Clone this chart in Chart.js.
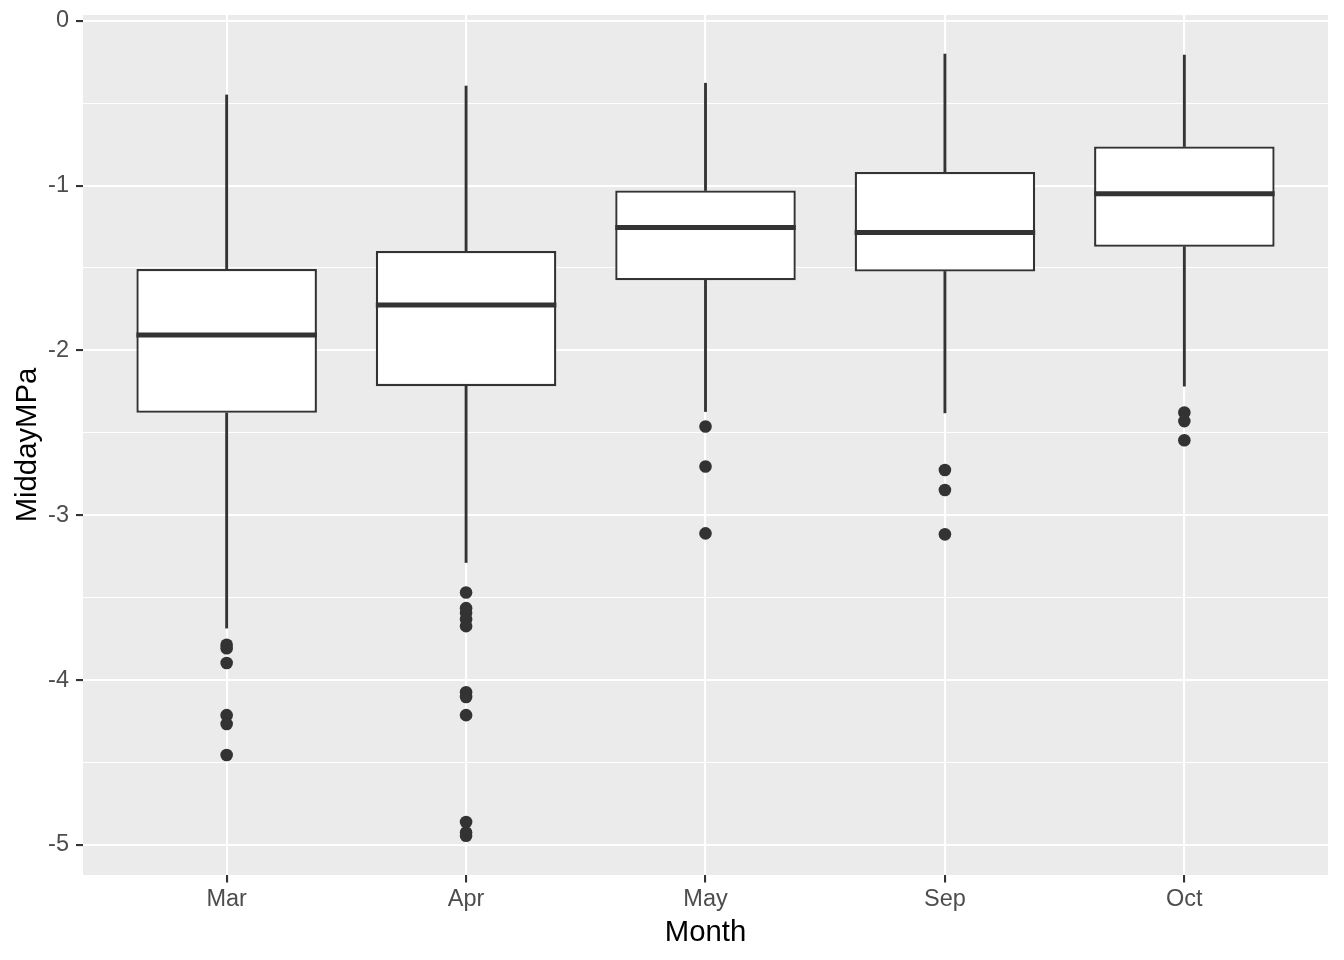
<!DOCTYPE html>
<html>
<head>
<meta charset="utf-8">
<script src="https://cdn.jsdelivr.net/npm/chart.js@4"></script>
<style>
  html, body { margin: 0; padding: 0; background: #ffffff; }
  canvas { display: block; }
</style>
</head>
<body>
<canvas id="c" width="1344" height="960"></canvas>
<script>
// ---- data ----
const months      = ['Mar', 'Apr', 'May', 'Sep', 'Oct'];
const whiskerLow  = [-3.685, -3.287, -2.371, -2.379, -2.217];
const q1          = [-2.379, -2.217, -1.575, -1.521, -1.371];
const medians     = [-1.906, -1.724, -1.254, -1.284, -1.050];
const q3          = [-1.506, -1.397, -1.030, -0.918, -0.763];
const whiskerHigh = [-0.450, -0.396, -0.379, -0.202, -0.208];

const outliersMar = [-3.786, -3.807, -3.897, -4.213, -4.267, -4.455];
const outliersApr = [-3.469, -3.564, -3.594, -3.631, -3.673, -4.074, -4.103, -4.213, -4.861, -4.925, -4.945];
const outliersMay = [-2.462, -2.704, -3.110];
const outliersSep = [-2.726, -2.847, -3.116];
const outliersOct = [-2.377, -2.429, -2.545];
const outliers = [outliersMar, outliersApr, outliersMay, outliersSep, outliersOct];

const yMajorTicks = [0, -1, -2, -3, -4, -5];
const yMinorTicks = [-0.5, -1.5, -2.5, -3.5, -4.5];
const xTickPositions = [1, 2, 3, 4, 5];

// ---- build datasets ----
const pos = months.map((m, i) => i + 1);
const boxData      = pos.map((x, i) => ({ x: x, y: [q1[i], q3[i]] }));
const upperWhisker = pos.map((x, i) => ({ x: x, y: [q3[i], whiskerHigh[i]] }));
const lowerWhisker = pos.map((x, i) => ({ x: x, y: [whiskerLow[i], q1[i]] }));
const medianData   = pos.map((x, i) => ({ x: x, y: medians[i] }));
const outlierData  = [];
outliers.forEach((arr, i) => arr.forEach(v => outlierData.push({ x: pos[i], y: v })));

const BOX_WIDTH = 0.754; // in category units (outer edge)
const INK = '#333333';
const FONT = '"Liberation Sans", Arial, Helvetica, sans-serif';

const panelBg = {
  id: 'panelBg',
  beforeDraw(chart) {
    const { ctx, chartArea: a } = chart;
    ctx.save();
    ctx.fillStyle = '#ffffff';
    ctx.fillRect(0, 0, chart.width, chart.height);
    ctx.fillStyle = '#EBEBEB';
    ctx.fillRect(a.left, a.top, a.right - a.left, a.bottom - a.top);
    ctx.restore();
  }
};

const yGridTicks = yMajorTicks.concat(yMinorTicks).sort((a, b) => b - a);

function noOverflowPadding(scale) {
  scale.paddingTop = 0;
  scale.paddingBottom = 0;
  scale.paddingLeft = 0;
  scale.paddingRight = 0;
}

const halfBox = (ctx) => {
  const xs = ctx.chart.scales.x;
  return xs.getPixelForValue(1 + BOX_WIDTH / 2) - xs.getPixelForValue(1);
};

new Chart(document.getElementById('c'), {
  data: {
    datasets: [
      {
        type: 'scatter',
        label: 'outliers',
        data: outlierData,
        pointRadius: 6.3,
        pointBackgroundColor: INK,
        pointBorderWidth: 0,
        pointHoverRadius: 6.3
      },
      {
        type: 'scatter',
        label: 'median',
        data: medianData,
        pointStyle: 'line',
        pointRadius: halfBox,
        pointHoverRadius: halfBox,
        pointBorderColor: INK,
        pointBorderWidth: 5
      },
      {
        type: 'bar',
        label: 'box',
        data: boxData,
        grouped: false,
        backgroundColor: '#ffffff',
        borderColor: INK,
        borderWidth: 2.3,
        borderSkipped: false,
        categoryPercentage: 1,
        barPercentage: BOX_WIDTH
      },
      {
        type: 'bar',
        label: 'upper whisker',
        data: upperWhisker,
        grouped: false,
        backgroundColor: INK,
        borderWidth: 0,
        barThickness: 2.2
      },
      {
        type: 'bar',
        label: 'lower whisker',
        data: lowerWhisker,
        grouped: false,
        backgroundColor: INK,
        borderWidth: 0,
        barThickness: 2.2
      }
    ]
  },
  options: {
    responsive: false,
    animation: false,
    events: [],
    layout: { padding: { top: 15, right: 16, left: 0, bottom: 0 } },
    plugins: { legend: { display: false }, tooltip: { enabled: false } },
    scales: {
      x: {
        type: 'linear',
        min: 0.4,
        max: 5.6,
        bounds: 'data',
        offset: false,
        afterBuildTicks: (scale) => { scale.ticks = xTickPositions.map(v => ({ value: v })); },
        afterFit: (scale) => { scale.height = 85; noOverflowPadding(scale); },
        border: { display: false },
        grid: {
          offset: false,
          color: '#ffffff',
          lineWidth: 2.1,
          tickColor: INK,
          tickLength: 7.5,
          tickWidth: 2.1
        },
        ticks: {
          autoSkip: false,
          maxRotation: 0,
          padding: 2.5,
          color: '#4D4D4D',
          font: { family: FONT, size: 23.5 },
          callback: (v) => months[v - 1] || ''
        },
        title: {
          display: true,
          text: 'Month',
          color: '#000000',
          font: { family: FONT, size: 29.3 },
          padding: { top: 0, bottom: 10 }
        }
      },
      y: {
        type: 'linear',
        min: -5.183,
        max: 0.035,
        bounds: 'data',
        afterBuildTicks: (scale) => { scale.ticks = yGridTicks.map(v => ({ value: v })); },
        afterFit: (scale) => { scale.width = 83; noOverflowPadding(scale); },
        border: { display: false },
        grid: {
          color: '#ffffff',
          lineWidth: (ctx) => (yMajorTicks.includes(ctx.tick && ctx.tick.value) ? 2.1 : 1.1),
          tickColor: (ctx) => (yMajorTicks.includes(ctx.tick && ctx.tick.value) ? INK : 'rgba(0,0,0,0)'),
          tickLength: 7,
          tickWidth: 2.1
        },
        ticks: {
          autoSkip: false,
          padding: 7,
          color: '#4D4D4D',
          font: { family: FONT, size: 23.5 },
          callback: (v) => (yMajorTicks.includes(v) ? String(v) : '')
        },
        title: {
          display: true,
          text: 'MiddayMPa',
          color: '#000000',
          font: { family: FONT, size: 29.3 },
          padding: { top: 10.5, bottom: 0 }
        }
      }
    }
  },
  plugins: [panelBg]
});
</script>
</body>
</html>
